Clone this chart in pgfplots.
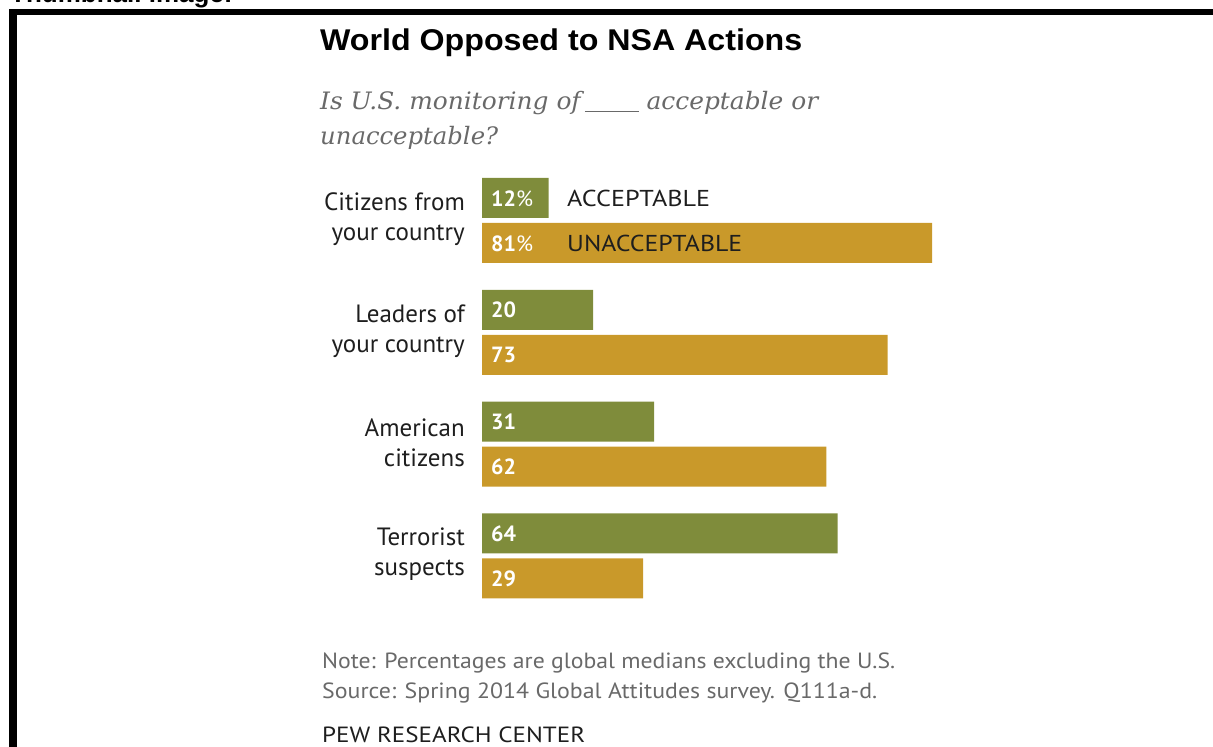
\documentclass[border=0pt]{standalone}
\usepackage{pgfplots}
\pgfplotsset{compat=1.18}
\usepackage{fontspec}
\setmainfont{PT Sans}
\newfontfamily\serifit{DejaVu Serif}
\newfontfamily\arialb{Liberation Sans}
\definecolor{pewgreen}{RGB}{127,140,59}
\definecolor{pewgold}{RGB}{201,153,42}
\definecolor{pewgrey}{RGB}{105,105,105}
\definecolor{pewdark}{RGB}{30,30,30}
\newcommand{\fitw}[2]{\resizebox{#1}{\height}{#2}}
\begin{document}
\begin{tikzpicture}[x=1pt,y=1pt]
\useasboundingbox (0,0) rectangle (1213,747);
\begin{scope}
\clip (0,0) rectangle (1213,747);
\node[anchor=base west,inner sep=0,font=\arialb\bfseries\fontsize{26}{30}\selectfont] at (10,744) {Thumbnail image:};
\end{scope}
\fill[black] (9,732) rectangle (1213,738);
\fill[black] (9,0) rectangle (17,738);
\node[anchor=base west,inner sep=0,font=\arialb\bfseries\fontsize{30}{36}\selectfont] at (320,696) {\fitw{482pt}{World Opposed to NSA Actions}};
\node[anchor=base west,inner sep=0,text=pewgrey,font=\serifit\itshape\fontsize{24}{30}\selectfont] at (320,637) {\fitw{498pt}{Is U.S. monitoring of\,\underline{\hspace{52pt}} acceptable or}};
\node[anchor=base west,inner sep=0,text=pewgrey,font=\serifit\itshape\fontsize{24}{30}\selectfont] at (320,602) {\fitw{178pt}{unacceptable?}};
\node[anchor=base west,inner sep=0,text=pewgrey,font=\fontsize{22}{26}\selectfont] at (322,78) {\fitw{573pt}{Note: Percentages are global medians excluding the U.S.}};
\node[anchor=base west,inner sep=0,text=pewgrey,font=\fontsize{22}{26}\selectfont] at (322,48) {\fitw{555pt}{Source: Spring 2014 Global Attitudes survey. Q111a-d.}};
\node[anchor=base west,inner sep=0,text=pewdark,font=\fontsize{22}{26}\selectfont] at (322,4) {\fitw{263pt}{PEW RESEARCH CENTER}};
\begin{axis}[
  at={(482pt,0pt)}, anchor=south west,
  scale only axis, width=555.6pt, height=747pt,
  xmin=0, xmax=100, ymin=-1.972, ymax=4.709, y dir=reverse,
  axis x line*=bottom, axis y line*=left,
  axis line style={draw=none}, tick style={draw=none},
  xtick=\empty, ytick={0,1,2,3},
  yticklabels={{Citizens from\\your country},{Leaders of\\your country},{American\\citizens},{Terrorist\\suspects}},
  yticklabel style={align=right, font=\fontsize{25}{30}\selectfont, text=pewdark, inner sep=0pt, xshift=-17pt, yshift=1.5pt},
  clip=false,
]
\addplot[xbar, bar width=40pt, bar shift=22.5pt, fill=pewgreen, draw=none] coordinates {(12,0) (20,1) (31,2) (64,3)};
\addplot[xbar, bar width=40pt, bar shift=-22.5pt, fill=pewgold, draw=none] coordinates {(81,0) (73,1) (62,2) (29,3)};
\addplot[draw=none, mark=none, nodes near coords, point meta=explicit symbolic,
  every node near coord/.style={anchor=west, inner sep=0pt, xshift=9pt, yshift=22pt, text=white, font=\bfseries\fontsize{22}{26}\selectfont}]
  coordinates {(0,0) [12{\mdseries\%}] (0,1) [20] (0,2) [31] (0,3) [64]};
\addplot[draw=none, mark=none, nodes near coords, point meta=explicit symbolic,
  every node near coord/.style={anchor=west, inner sep=0pt, xshift=9pt, yshift=-23pt, text=white, font=\bfseries\fontsize{22}{26}\selectfont}]
  coordinates {(0,0) [81{\mdseries\%}] (0,1) [73] (0,2) [62] (0,3) [29]};
\node[anchor=west, inner sep=0pt, yshift=22pt, text=pewdark, font=\fontsize{23}{28}\selectfont] at (axis cs:15.3,0) {\fitw{143pt}{ACCEPTABLE}};
\node[anchor=west, inner sep=0pt, yshift=-23pt, text=pewdark, font=\fontsize{23}{28}\selectfont] at (axis cs:15.3,0) {\fitw{175pt}{UNACCEPTABLE}};
\end{axis}
\end{tikzpicture}
\end{document}
